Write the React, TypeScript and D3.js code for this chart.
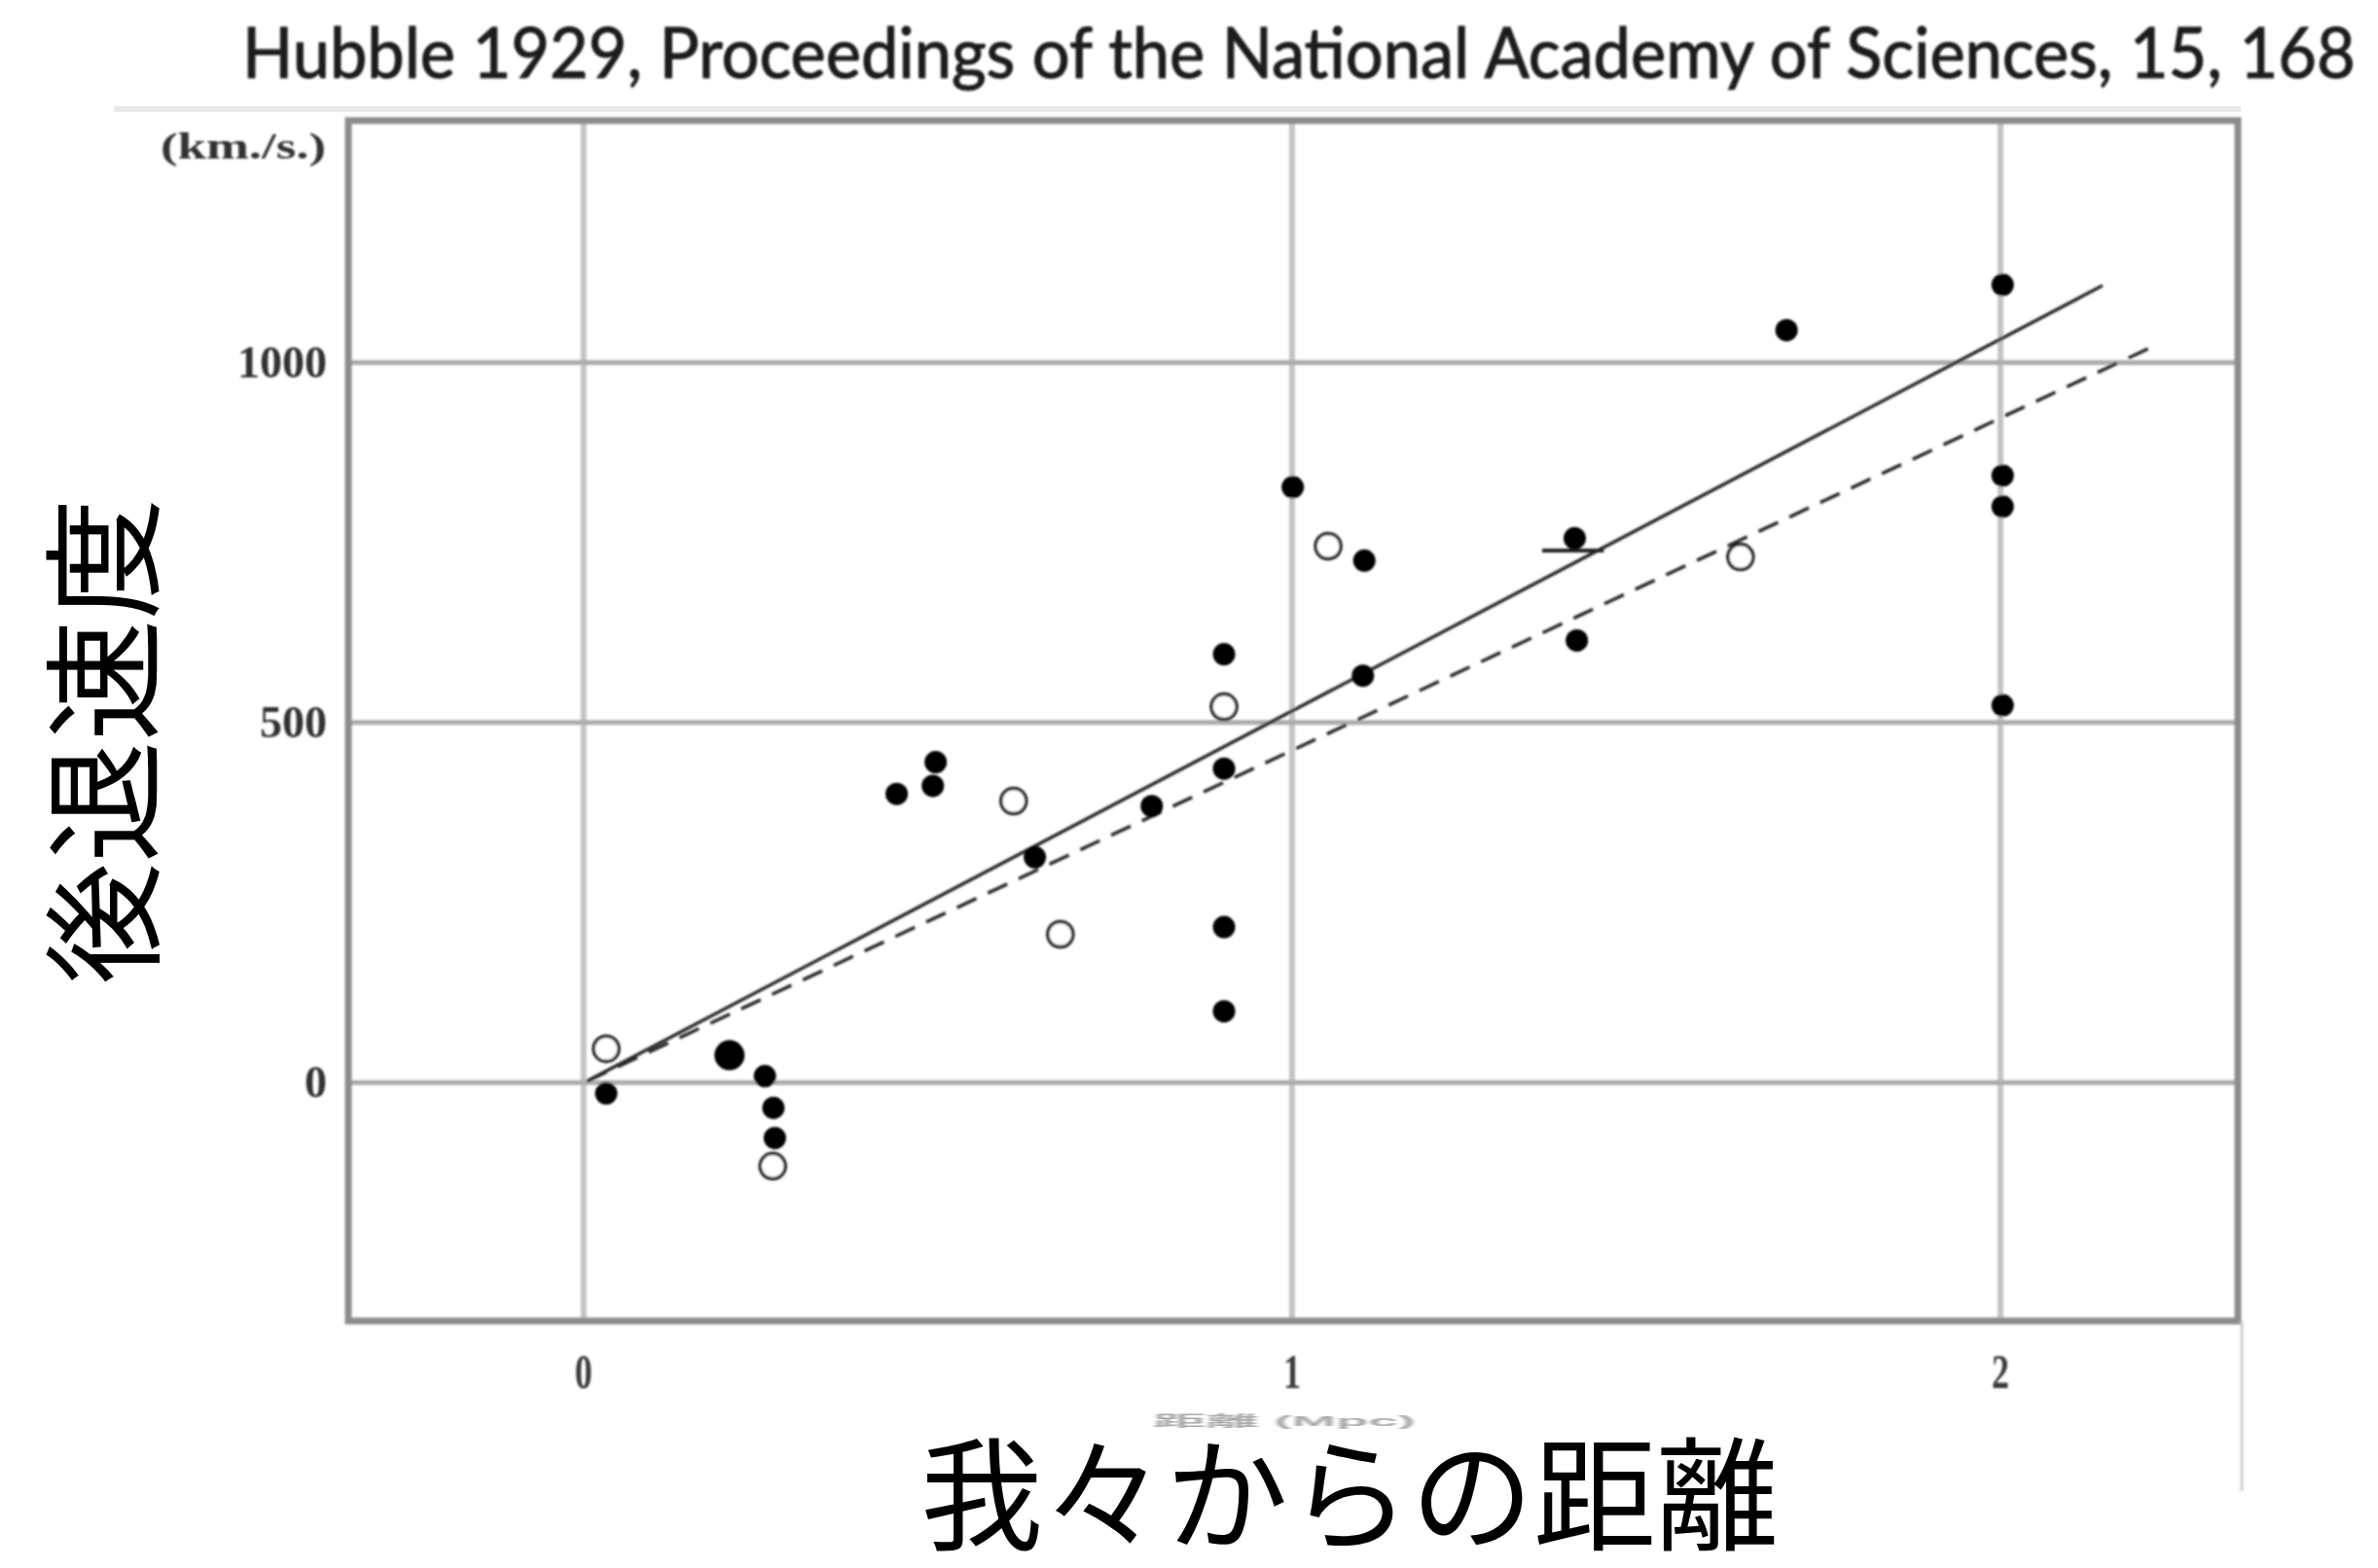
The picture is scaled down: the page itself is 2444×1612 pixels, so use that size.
import React, { useLayoutEffect, useRef, useState } from "react";
import * as d3 from "d3";

const titleText = "Hubble 1929, Proceedings of the National Academy of Sciences, 15, 168";
const xTicks = [0, 1, 2];
const yTicks = [0, 500, 1000];
const yUnit = "(km./s.)";
const yLabel = "後退速度";
const xLabel = "我々からの距離";
const xLabelGhost = "距離 (Mpc)";

// filled dots (distance, velocity)
const filledX = [0.032, 0.256, 0.268, 0.27, 0.442, 0.497, 0.493, 0.637, 0.802, 0.904, 0.904, 0.904, 0.904, 1.001, 1.102, 1.1, 1.399, 1.402, 1.698, 2.003, 2.003, 2.003, 2.003];
const filledY = [-15, 9, -35, -77, 401, 445, 412, 313, 384, 595, 436, 216, 99, 827, 725, 565, 756, 614, 1045, 1108, 843, 800, 524];
// large filled dot
const bigX = [0.206];
const bigY = [38];
// open circles
const openX = [0.032, 0.267, 0.607, 0.673, 0.904, 1.051, 1.633];
const openY = [47, -116, 391, 206, 522, 745, 730];
// fitted lines
const solidLineX = [0.005, 2.144];
const solidLineY = [2, 1107];
const dashedLineX = [0.005, 2.223];
const dashedLineY = [2, 1026];
// small horizontal bar near the 1.4 point
const barX = [1.353, 1.44];
const barY = [739, 739];

const W = 2444;
const H = 1612;
const L = 358, R = 2300, T = 124, B = 1358;
const TITLE_X = 249;
const TITLE_W = 2172;
const TITLE_FS = 71;

export default function App() {
  const x = d3.scaleLinear().domain([-0.332, 2.335]).range([L, R]);
  const y = d3.scaleLinear().domain([-331, 1336]).range([B, T]);
  const line = d3.line<[number, number]>().x((d) => x(d[0])).y((d) => y(d[1]));
  const solid = line(solidLineX.map((v, i) => [v, solidLineY[i]]));
  const dashed = line(dashedLineX.map((v, i) => [v, dashedLineY[i]]));
  const bar = line(barX.map((v, i) => [v, barY[i]]));

  const titleRef = useRef<SVGTextElement | null>(null);
  const [titleFs, setTitleFs] = useState<number | null>(null);
  useLayoutEffect(() => {
    const el = titleRef.current;
    if (!el || titleFs !== null) return;
    const w = el.getComputedTextLength();
    if (w > 0) setTitleFs((TITLE_FS * TITLE_W) / w);
  }, [titleFs]);
  const fs = titleFs ?? TITLE_FS;
  const sy = TITLE_FS / fs;

  return (
    <svg
      width={W}
      height={H}
      viewBox={`0 0 ${W} ${H}`}
      style={{ position: "absolute", left: 0, top: 0, background: "#fff" }}
    >
      <defs>
        <filter id="soft" x="-5%" y="-5%" width="110%" height="110%">
          <feGaussianBlur stdDeviation="1.1" />
        </filter>
        <filter id="ghostBlur" x="-10%" y="-50%" width="120%" height="200%">
          <feGaussianBlur stdDeviation="2" />
        </filter>
      </defs>
      <rect x={0} y={0} width={W} height={H} fill="#fff" />

      {/* title */}
      <text
        ref={titleRef}
        x={TITLE_X}
        y={0}
        transform={`translate(0,80) scale(1,${sy})`}
        fontFamily="Lato, 'Open Sans', sans-serif"
        fontSize={fs}
        fill="#1e1e1e"
        stroke="#1e1e1e"
        strokeWidth={1.1}
        filter="url(#soft)"
      >
        {titleText}
      </text>

      {/* faint band above plot */}
      <rect x={117} y={109} width={2186} height={6} fill="#e9e9e9" />

      <g filter="url(#soft)">
        {/* gridlines */}
        {xTicks.map((t) => (
          <line key={"gx" + t} x1={x(t)} x2={x(t)} y1={T} y2={B} stroke="#c4c4c4" strokeWidth={6} />
        ))}
        {yTicks.map((t) => (
          <line key={"gy" + t} x1={L} x2={R} y1={y(t)} y2={y(t)} stroke="#ababab" strokeWidth={5} />
        ))}
        {/* frame */}
        <rect x={L} y={T} width={R - L} height={B - T} fill="none" stroke="#8c8c8c" strokeWidth={7} />
        <line x1={2304} x2={2304} y1={B} y2={1533} stroke="#cfcfcf" strokeWidth={3} />

        {/* lines */}
        <path d={solid || ""} fill="none" stroke="#2a2a2a" strokeWidth={3.5} />
        <path d={dashed || ""} fill="none" stroke="#2a2a2a" strokeWidth={3.5} strokeDasharray="22 13" />
        <path d={bar || ""} fill="none" stroke="#222" strokeWidth={4} />

        {/* points */}
        {filledX.map((v, i) => (
          <circle key={"f" + i} cx={x(v)} cy={y(filledY[i])} r={11.5} fill="#000" />
        ))}
        {bigX.map((v, i) => (
          <circle key={"b" + i} cx={x(v)} cy={y(bigY[i])} r={15.5} fill="#000" />
        ))}
        {openX.map((v, i) => (
          <circle key={"o" + i} cx={x(v)} cy={y(openY[i])} r={13} fill="#fff" stroke="#222" strokeWidth={3.5} />
        ))}

        {/* tick labels */}
        {xTicks.map((t) => (
          <text
            key={"tx" + t}
            x={x(t)}
            y={1410}
            textAnchor="middle"
            dominantBaseline="central"
            fontFamily="'Liberation Serif', 'DejaVu Serif', serif"
            fontWeight="bold"
            fontSize={50}
            fill="#3a3a3a"
            transform={`translate(${x(t)},0) scale(0.72,1) translate(${-x(t)},0)`}
          >
            {t}
          </text>
        ))}
        {yTicks.map((t) => (
          <text
            key={"ty" + t}
            x={336}
            y={y(t)}
            textAnchor="end"
            dominantBaseline="central"
            fontFamily="'Liberation Serif', 'DejaVu Serif', serif"
            fontWeight="bold"
            fontSize={46}
            fill="#333"
          >
            {t}
          </text>
        ))}
        <text
          x={165}
          y={150}
          dominantBaseline="central"
          fontFamily="'Liberation Serif', 'DejaVu Serif', serif"
          fontWeight="bold"
          fontSize={38}
          fill="#333"
          textLength={170}
          lengthAdjust="spacingAndGlyphs"
        >
          {yUnit}
        </text>
      </g>

      {/* faint remnant of the cut-off original axis label */}
      <text
        x={1320}
        y={1466}
        textAnchor="middle"
        fontFamily="'Liberation Sans', 'Noto Sans CJK JP', sans-serif"
        fontWeight="bold"
        fontSize={48}
        fill="#aaa"
        textLength={270}
        lengthAdjust="spacingAndGlyphs"
        transform="translate(0,1466) scale(1,0.3) translate(0,-1466)"
        filter="url(#ghostBlur)"
      >
        {xLabelGhost}
      </text>

      {/* axis titles */}
      <text
        x={1387}
        y={1584}
        textAnchor="middle"
        fontFamily="'Liberation Sans', 'Noto Sans CJK JP', sans-serif"
        fontSize={126}
        fill="#000"
      >
        {xLabel}
      </text>
      <text
        transform={`translate(98,762) rotate(-90)`}
        textAnchor="middle"
        dominantBaseline="central"
        fontFamily="'Noto Sans CJK JP', sans-serif"
        fontSize={125}
        fill="#000"
      >
        {yLabel}
      </text>
    </svg>
  );
}
